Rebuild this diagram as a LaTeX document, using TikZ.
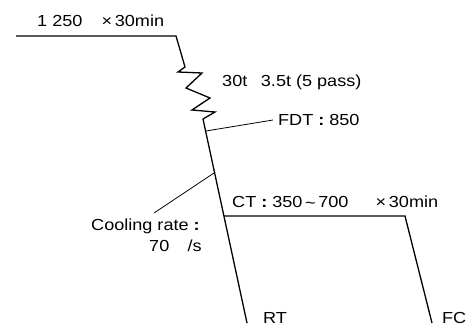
\documentclass[tikz,border=0pt]{standalone}
\usepackage{fontspec}
\setmainfont{Liberation Sans}[FakeStretch=1.13]
\usetikzlibrary{positioning}
\newcommand{\fwcolon}{\makebox[1em]{\bfseries :}}

\begin{document}
\begin{tikzpicture}[x=1pt, y=-1pt,
  lbl/.style={anchor=base west, inner sep=0pt, font=\fontsize{16}{19}\selectfont},
  route/.style={line width=1.3pt, line join=miter},
  lead/.style={line width=0.8pt}]
\useasboundingbox (0,0) rectangle (467,327);
% reheating, rough rolling, finishing
\coordinate (heat0) at (16,36);
\coordinate (heat1) at (176,36);
\coordinate (roll0) at (185,67);
\coordinate (roll1) at (203,119);
\coordinate (cool1) at (247,323);
\draw[route] (heat0) -- (heat1) -- (roll0) -- (178,72) -- (202,73) -- (186,88)
  -- (210,98) -- (192,110) -- (215,112) -- (roll1) -- (cool1);
% coiling and furnace cooling
\coordinate (ct0) at (224,216);
\coordinate (ct1) at (405,216);
\coordinate (fc1) at (432,323);
\draw[route] (ct0) -- (ct1) -- (fc1);
% leaders
\coordinate (fdtpt) at (206,131);
\coordinate (fdtend) at (273,120);
\coordinate (crpt) at (214,173);
\coordinate (crend) at (154,213);
\draw[lead] (fdtpt) -- (fdtend);
\draw[lead] (crpt) -- (crend);
% labels
\node[lbl] (heat) at (37,26.5) {1 250\hspace{1.2em}×\,30min};
\node[lbl] (pass) at (222,86) {30t\hspace{0.85em}3.5t (5 pass)};
\node[lbl] (fdt) at (278,125) {FDT\fwcolon 850};
\node[lbl] (ct) at (232,207) {CT\fwcolon 350\,\raisebox{-1pt}{\~{}}\,700\hspace{1.7em}×\,30min};
\node[lbl] (rate) at (91,230) {Cooling rate\fwcolon};
\node[lbl] (rate2) at (149,251) {70\hspace{1.15em}/s};
\node[lbl] (rt) at (263,323) {RT};
\node[lbl] (fc) at (442,323) {FC};
\end{tikzpicture}
\end{document}
